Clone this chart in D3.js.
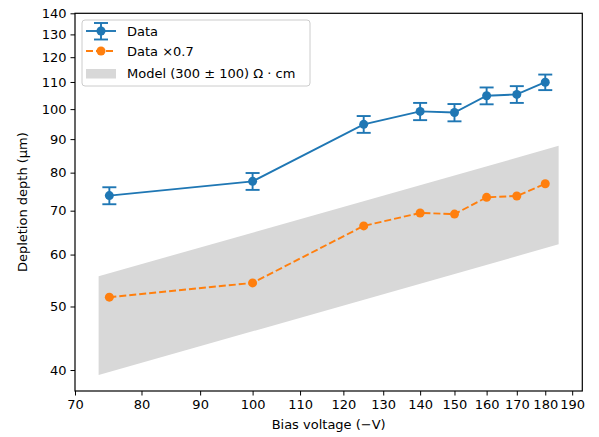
<!DOCTYPE html>
<html>
<head>
<meta charset="utf-8">
<script src="https://cdn.jsdelivr.net/npm/d3@7"></script>
<style>
  body { margin: 0; background: #fff; }
  svg { display: block; font-family: "DejaVu Sans", sans-serif; }
</style>
</head>
<body>
<script>
// data
var voltage = [75, 100, 125, 140, 150, 160, 170, 180];
var depth = [73.8, 77.6, 94.8, 99.2, 98.8, 104.8, 105.3, 109.9];
var depthErr = [2.2, 2.3, 2.8, 3.0, 3.0, 3.1, 3.1, 3.0];
var scaleFactor = 0.7;

// model band (straight in log-log, so its ends are enough)
var modelV = [73.4, 184.9];
var modelLow = [39.3, 62.2];
var modelHigh = [55.6, 87.9];

var xTicks = [70, 80, 90, 100, 110, 120, 130, 140, 150, 160, 170, 180, 190];
var yTicks = [40, 50, 60, 70, 80, 90, 100, 110, 120, 130, 140];

var W = 599, H = 437;
var margin = {top: 13.3, right: 16.7, bottom: 46, left: 75},
    width = W - margin.left - margin.right,
    height = H - margin.top - margin.bottom;

var blue = "#1f77b4", orange = "#ff7f0e";

var svg = d3.select("body").append("svg")
    .attr("width", W)
    .attr("height", H);

var g = svg.append("g")
    .attr("transform", "translate(" + margin.left + "," + margin.top + ")");

var x = d3.scaleLog().domain([70, 193.9]).range([0, width]);
var y = d3.scaleLog().domain([37.16, 140]).range([height, 0]);

// model band
var band = d3.area()
    .x(function (d) { return x(d.v); })
    .y0(function (d) { return y(d.lo); })
    .y1(function (d) { return y(d.hi); });
var bandData = modelV.map(function (v, i) {
    return {v: v, lo: modelLow[i], hi: modelHigh[i]};
});
g.append("path")
    .datum(bandData)
    .attr("d", band)
    .attr("fill", "#d8d8d8");

var pts = voltage.map(function (v, i) {
    return {v: v, d: depth[i], e: depthErr[i]};
});

var line = d3.line()
    .x(function (d) { return x(d.v); })
    .y(function (d) { return y(d.d); });

// scaled data
var scaled = pts.map(function (p) { return {v: p.v, d: p.d * scaleFactor}; });
g.append("path")
    .datum(scaled)
    .attr("d", line)
    .attr("fill", "none")
    .attr("stroke", orange)
    .attr("stroke-width", 1.9)
    .attr("stroke-dasharray", "7,3");
g.selectAll(".dot2")
    .data(scaled)
    .enter().append("circle")
    .attr("cx", function (d) { return x(d.v); })
    .attr("cy", function (d) { return y(d.d); })
    .attr("r", 4.5)
    .attr("fill", orange);

// data with error bars
g.append("path")
    .datum(pts)
    .attr("d", line)
    .attr("fill", "none")
    .attr("stroke", blue)
    .attr("stroke-width", 1.9);

var eb = g.selectAll(".err")
    .data(pts)
    .enter().append("g");
eb.append("line")
    .attr("x1", function (d) { return x(d.v); })
    .attr("x2", function (d) { return x(d.v); })
    .attr("y1", function (d) { return y(d.d - d.e); })
    .attr("y2", function (d) { return y(d.d + d.e); })
    .attr("stroke", blue).attr("stroke-width", 1.9);
[-1, 1].forEach(function (s) {
    eb.append("line")
        .attr("x1", function (d) { return x(d.v) - 7; })
        .attr("x2", function (d) { return x(d.v) + 7; })
        .attr("y1", function (d) { return y(d.d + s * d.e); })
        .attr("y2", function (d) { return y(d.d + s * d.e); })
        .attr("stroke", blue).attr("stroke-width", 1.9);
});
eb.append("circle")
    .attr("cx", function (d) { return x(d.v); })
    .attr("cy", function (d) { return y(d.d); })
    .attr("r", 4.5)
    .attr("fill", blue);

// axes
var xAxis = g.append("g")
    .attr("transform", "translate(0," + height + ")")
    .call(d3.axisBottom(x).tickValues(xTicks).tickFormat(d3.format("d")).tickSizeOuter(0).tickSize(4.5).tickPadding(4));
var yAxis = g.append("g")
    .call(d3.axisLeft(y).tickValues(yTicks).tickFormat(d3.format("d")).tickSizeOuter(0).tickSize(4.5).tickPadding(4));
[xAxis, yAxis].forEach(function (a) {
    a.select(".domain").remove();
    a.selectAll("text").attr("font-size", 13).attr("fill", "#000")
        .attr("font-family", "DejaVu Sans, sans-serif");
    a.selectAll("line").attr("stroke", "#000").attr("stroke-width", 1);
});

// frame
g.append("rect")
    .attr("width", width).attr("height", height)
    .attr("fill", "none").attr("stroke", "#000").attr("stroke-width", 1.2);

// axis labels
svg.append("text")
    .attr("x", margin.left + width / 2).attr("y", 429)
    .attr("text-anchor", "middle").attr("font-size", 13)
    .text("Bias voltage (\u2212V)");
svg.append("text")
    .attr("transform", "translate(27," + (margin.top + height / 2) + ") rotate(-90)")
    .attr("text-anchor", "middle").attr("font-size", 13)
    .text("Depletion depth (\u00b5m)");

// legend
var lg = svg.append("g");
lg.append("rect")
    .attr("x", 82).attr("y", 20).attr("width", 228).attr("height", 66)
    .attr("rx", 3).attr("fill", "#fff").attr("fill-opacity", 0.8)
    .attr("stroke", "#ccc").attr("stroke-width", 1);

lg.append("line").attr("x1", 86).attr("x2", 116).attr("y1", 31).attr("y2", 31)
    .attr("stroke", blue).attr("stroke-width", 1.9);
lg.append("line").attr("x1", 101).attr("x2", 101).attr("y1", 23).attr("y2", 39.5)
    .attr("stroke", blue).attr("stroke-width", 1.9);
[23, 39.5].forEach(function (yy) {
    lg.append("line").attr("x1", 94).attr("x2", 108).attr("y1", yy).attr("y2", yy)
        .attr("stroke", blue).attr("stroke-width", 1.9);
});
lg.append("circle").attr("cx", 101).attr("cy", 31).attr("r", 4.5).attr("fill", blue);

lg.append("line").attr("x1", 86).attr("x2", 116).attr("y1", 51).attr("y2", 51)
    .attr("stroke", orange).attr("stroke-width", 1.9).attr("stroke-dasharray", "7,3");
lg.append("circle").attr("cx", 101).attr("cy", 51).attr("r", 4.5).attr("fill", orange);

lg.append("rect").attr("x", 86).attr("y", 69).attr("width", 30).attr("height", 9.5)
    .attr("fill", "#d8d8d8");

var labels = ["Data", "Data \u00d70.7", "Model (300 \u00b1 100) \u03a9 \u00b7 cm"];
[35.5, 55.5, 78].forEach(function (yy, i) {
    lg.append("text").attr("x", 127).attr("y", yy).attr("font-size", 13).text(labels[i]);
});
</script>
</body>
</html>
